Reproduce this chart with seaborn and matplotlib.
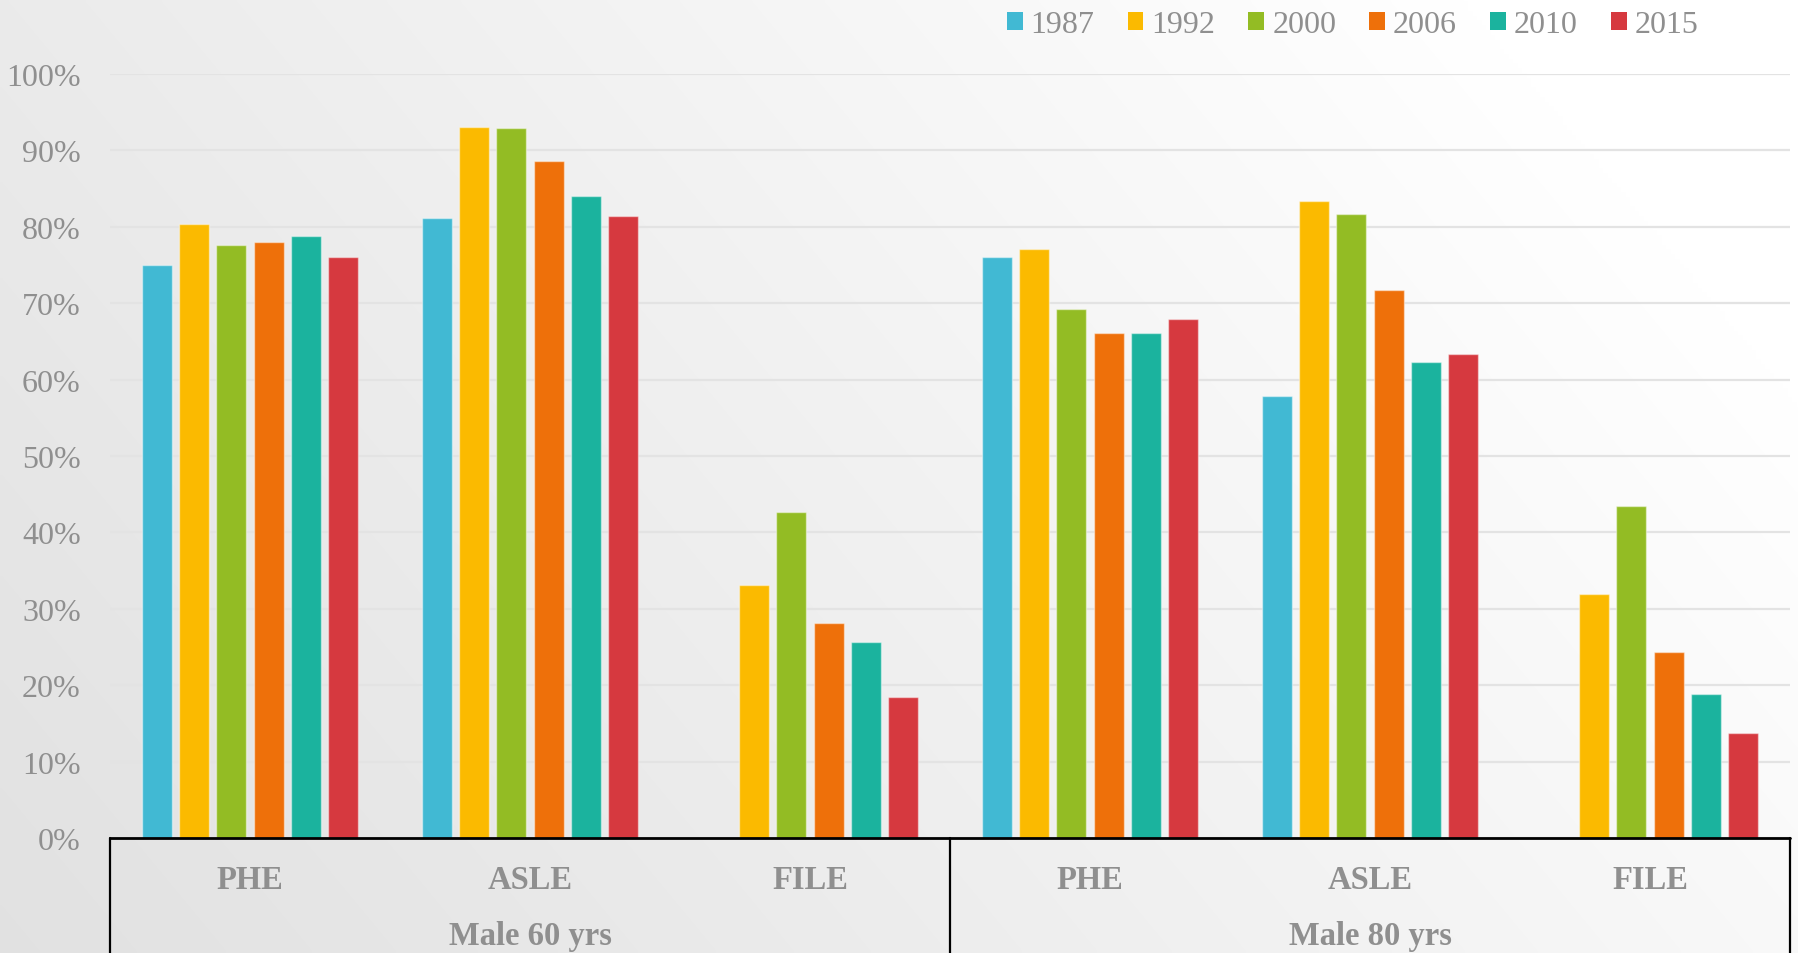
import numpy as np
import pandas as pd
import matplotlib
matplotlib.use("Agg")
import matplotlib.pyplot as plt
from matplotlib.patches import Patch
from matplotlib.ticker import PercentFormatter
import seaborn as sns

# ---- data -------------------------------------------------------------
groups = ["Male 60 yrs", "Male 80 yrs"]
measures = ["PHE", "ASLE", "FILE"]
years = ["1987", "1992", "2000", "2006", "2010", "2015"]

# values in %, ordered as Male 60 (PHE, ASLE, FILE), Male 80 (PHE, ASLE, FILE)
y1987 = [75.0, 81.2, np.nan, 76.0, 57.9, np.nan]
y1992 = [80.4, 93.0, 33.1, 77.1, 83.4, 31.9]
y2000 = [77.6, 92.9, 42.7, 69.3, 81.7, 43.4]
y2006 = [78.0, 88.6, 28.1, 66.1, 71.7, 24.3]
y2010 = [78.8, 84.0, 25.6, 66.1, 62.3, 18.8]
y2015 = [76.1, 81.4, 18.5, 67.9, 63.3, 13.8]

series = dict(zip(years, [y1987, y1992, y2000, y2006, y2010, y2015]))
colors = ["#41B9D3", "#FBBA00", "#93BC24", "#EE700A", "#1BB39E", "#D6393F"]

slots = [f"{g}|{m}" for g in groups for m in measures]
rows = []
for yr, vals in series.items():
    for slot, v in zip(slots, vals):
        rows.append({"slot": slot, "year": yr, "value": v})
df = pd.DataFrame(rows)

# ---- figure -----------------------------------------------------------
sns.set_style("white")
plt.rcParams["font.family"] = ["Liberation Serif", "DejaVu Serif"]
GRAY = "#8f8f8f"

W, H = 1799, 954
fig = plt.figure(figsize=(W / 100, H / 100), dpi=100)

# soft diagonal background wash
bg = fig.add_axes([0, 0, 1, 1], zorder=-10)
xx, yy = np.meshgrid(np.linspace(0, 1, 400), np.linspace(1, 0, 200))
t = np.clip(0.8 * xx + 0.35 * yy, 0, 1)
shade = 0.885 + 0.115 * t ** 1.1
bg.imshow(np.dstack([shade, shade, shade]), aspect="auto", extent=[0, 1, 0, 1],
          interpolation="bilinear")
bg.set_axis_off()

left, right = 110 / W, 1790 / W
bottom, top = (H - 839) / H, (H - 75) / H
ax = fig.add_axes([left, bottom, right - left, top - bottom])
ax.set_facecolor("none")

sns.barplot(data=df, x="slot", y="value", hue="year", order=slots,
            hue_order=years, palette=colors, width=0.8, gap=0.2,
            saturation=1, legend=False, errorbar=None, ax=ax,
            edgecolor=(1, 1, 1, 0.45), linewidth=1.0, zorder=3)

ax.set_xlim(-0.5, len(slots) - 0.5)
ax.set_ylim(0, 100)
ax.set_yticks(np.arange(0, 101, 10))
ax.yaxis.set_major_formatter(PercentFormatter(decimals=0))
ax.tick_params(axis="y", length=0, pad=21, labelsize=23, labelcolor=GRAY)
ax.set_xticks([])
ax.set_xlabel("")
ax.set_ylabel("")
for s in ax.spines.values():
    s.set_visible(False)
ax.yaxis.grid(True, color="#e3e3e3", linewidth=1.6, zorder=0)
ax.set_axisbelow(True)

# category axis: baseline, group dividers and two rows of labels
trans = ax.get_xaxis_transform()
ax_h = 839 - 75
ax.plot([-0.5, len(slots) - 0.5], [0, 0], color="black", lw=2,
        transform=trans, clip_on=False, zorder=5)
for xd in [-0.5, 2.5, 5.5]:
    ax.plot([xd, xd], [0, -120 / ax_h], color="black", lw=1.6,
            transform=trans, clip_on=False, zorder=5)
for i, slot in enumerate(slots):
    ax.text(i, -41.5 / ax_h, slot.split("|")[1], transform=trans, ha="center",
            va="center", fontsize=23.5, fontweight="bold", color=GRAY)
for gi, g in enumerate(groups):
    ax.text(gi * 3 + 1, -97.5 / ax_h, g, transform=trans, ha="center",
            va="center", fontsize=23.5, fontweight="bold", color=GRAY)

# legend across the top
handles = [Patch(facecolor=c, edgecolor="none", label=y)
           for c, y in zip(colors, years)]
leg = fig.legend(handles=handles, loc="center left", ncol=6,
                 bbox_to_anchor=(994 / W, 1 - 25.5 / H), frameon=False,
                 fontsize=23, handlelength=0.5, handleheight=0.5,
                 handletextpad=0.25, columnspacing=1.03, borderaxespad=0)
for txt in leg.get_texts():
    txt.set_color(GRAY)

fig.savefig("out.png", dpi=100)
